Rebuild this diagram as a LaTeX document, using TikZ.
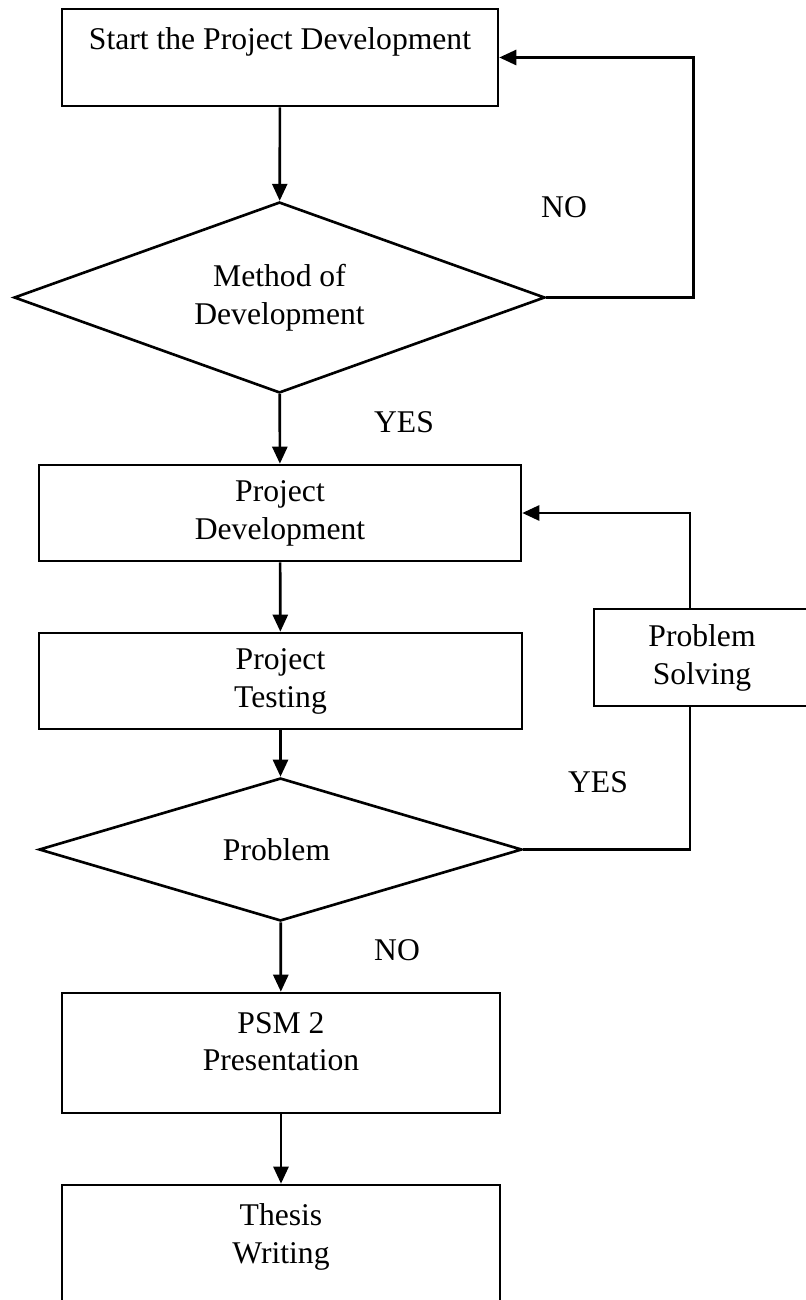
\documentclass[tikz,border=0pt]{standalone}
\usepackage{fontspec}
\setmainfont{Liberation Serif}
\usepackage{tikz}
\usetikzlibrary{shapes.geometric,arrows.meta,positioning,calc}

\begin{document}
\begin{tikzpicture}[
    x=0.02cm, y=-0.02cm,
    font=\fontsize{18}{21.6}\selectfont,
    every path/.style={line width=1.5pt},
    >={Triangle[length=0.34cm, width=0.3cm]},
    block/.style={rectangle, draw, align=center},
    decision/.style={diamond, draw, align=center, inner sep=0pt},
]
    \useasboundingbox (0,0) rectangle (805,1300);

    \node[block, minimum width=8.72cm, minimum height=1.94cm] (start) at (280,57.5) {
        Start the Project Development\\ \mbox{}
    };

    \node[decision, aspect=2.78, minimum width=10.62cm, minimum height=3.82cm] (method) at (279.5,297.5) {
        Method of\\
        Development
    };

    \node[block, minimum width=9.64cm, minimum height=1.92cm] (dev) at (280,513) {
        Project\\
        Development
    };

    \node[block, minimum width=9.66cm, minimum height=1.92cm] (test) at (280.5,681) {
        Project\\
        Testing
    };

    \node[decision, aspect=3.38, minimum width=9.66cm, minimum height=2.86cm] (problem) at (280.5,849.5) {
        Problem
    };

    \node[block, minimum width=4.32cm, minimum height=1.94cm] (solve) at (702,657.5) {
        Problem\\
        Solving
    };

    \node[block, minimum width=8.76cm, minimum height=2.4cm] (psm) at (281,1053) {
        PSM 2\\
        Presentation\\[-0.3cm] \mbox{}
    };

    \node[block, minimum width=8.76cm, minimum height=2.4cm] (thesis) at (281,1245) {
        Thesis\\
        Writing\\[-0.3cm] \mbox{}
    };

    % answers
    \node (no1) at (564,207) {NO};
    \node (yes1) at (404,422) {YES};
    \node (yes2) at (598,782) {YES};
    \node (no2) at (397,950) {NO};

    % main flow
    \draw[->] (start) -- (method);
    \draw[->] (method) -- (dev);
    \draw[->] (dev) -- (test);
    \draw[->] (test) -- (problem);
    \draw[->] (problem) -- (psm);
    \draw[->] (psm) -- (thesis);

    % loops back
    \draw[->] (method.east) -- ++(147,0) |- (start.east);
    \draw (problem.east) -| ([xshift=-0.24cm]solve.south);
    \draw[->] ([xshift=-0.24cm]solve.north) |- (dev.east);
\end{tikzpicture}
\end{document}
